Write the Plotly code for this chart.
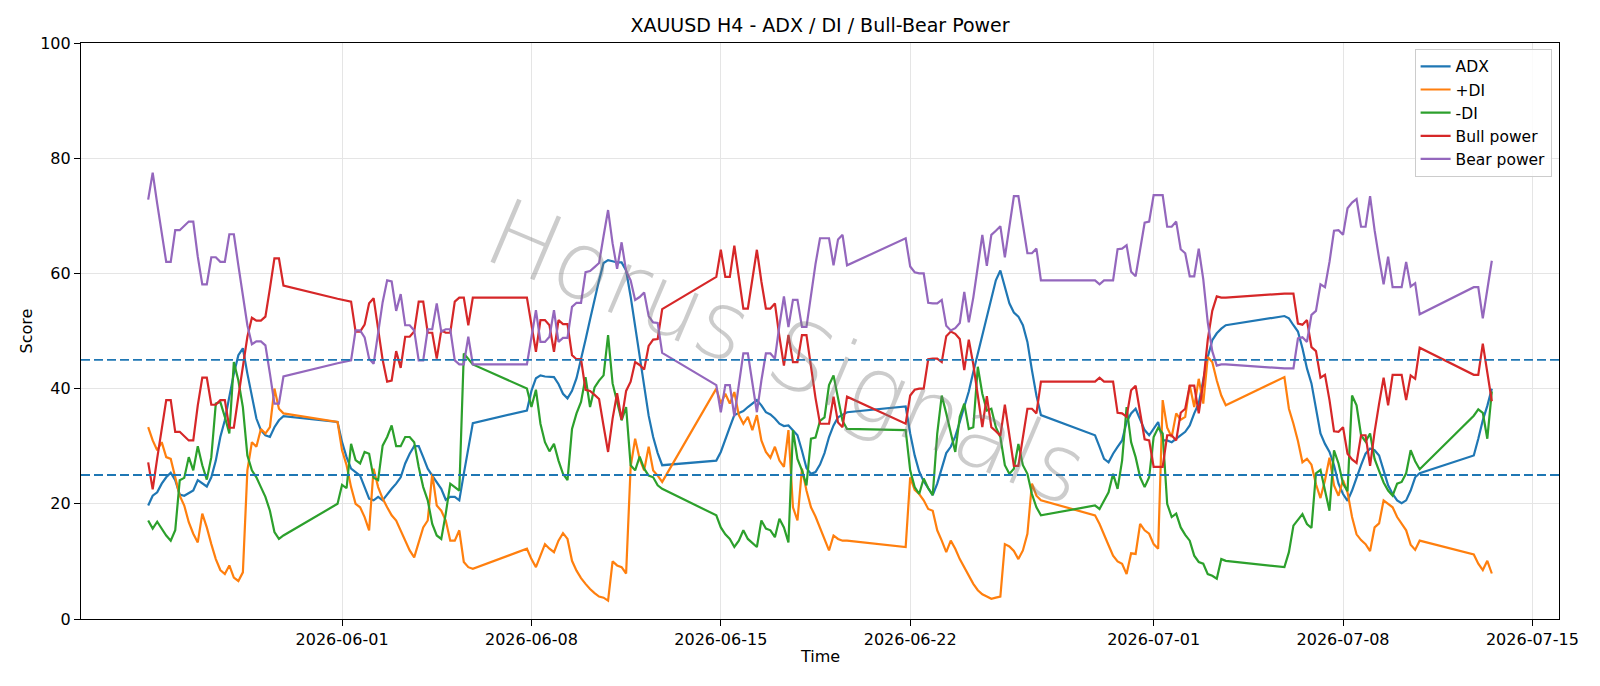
import pandas as pd
import plotly.graph_objects as go

# H4 trading sessions: (first bar, number of 4h bars)
sessions = [
    ("2026-05-24 20:00", 31), ("2026-05-31 20:00", 31), ("2026-06-07 20:00", 31),
    ("2026-06-14 20:00", 30), ("2026-06-21 20:00", 31), ("2026-06-28 20:00", 30),
    ("2026-07-05 20:00", 31), ("2026-07-12 20:00", 5),
]

adx = [
    19.7, 21.4, 22.0, 23.5, 24.6, 25.4, 24.1, 21.6, 21.4, 21.9, 22.3, 24.1, 23.5, 23.0, 24.6, 27.5, 31.6, 34.5, 38.6, 42.6, 45.8, 47.0, 42.6, 38.6, 34.8, 32.8, 31.9, 31.6, 33.3, 34.5, 35.2,
    34.2, 30.7, 28.1, 26.1, 25.5, 24.9, 22.9, 20.9, 20.6, 21.2, 20.6, 21.7, 22.6, 23.5, 24.6, 27.0, 28.7, 30.0, 30.0, 28.1, 26.1, 24.9, 23.8, 22.6, 20.7, 21.2, 21.2, 20.6, 25.2, 29.9, 34.0,
    36.2, 39.6, 41.8, 42.3, 42.1, 42.1, 42.0, 40.8, 39.1, 38.3, 39.6, 41.8, 45.0, 48.5, 52.0, 55.5, 58.8, 61.8, 62.3, 62.1, 61.9, 61.9, 60.5, 56.0, 50.8, 45.2, 39.8, 35.3, 31.6, 28.8, 26.7,
    27.5, 29.0, 31.0, 33.3, 35.4, 35.7, 36.1, 36.8, 37.4, 38.0, 37.1, 35.9, 35.5, 34.8, 33.9, 33.5, 33.6, 32.8, 31.9, 29.2, 26.2, 25.2, 25.5, 26.8, 28.8, 31.6, 33.6, 35.0, 35.5, 35.9,
    36.9, 32.2, 28.4, 25.6, 23.9, 22.6, 21.5, 23.5, 26.2, 28.8, 29.9, 31.7, 34.2, 36.8, 39.5, 42.9, 46.1, 49.3, 52.5, 55.7, 58.8, 60.5, 57.7, 54.8, 53.2, 52.5, 51.0, 48.1, 43.2, 38.8, 35.4,
    31.9, 29.9, 27.8, 27.2, 28.7, 29.9, 31.0, 34.2, 35.7, 36.5, 34.5, 32.8, 31.9, 33.0, 34.2, 31.0, 31.0, 30.7, 31.3, 31.9, 32.5, 33.6, 35.7, 37.4, 41.4, 45.5, 48.4, 49.6, 50.4, 51.0,
    52.6, 52.2, 51.0, 49.9, 47.0, 43.5, 40.9, 36.2, 32.2, 30.4, 29.0, 26.7, 23.5, 21.7, 20.5, 22.3, 24.6, 26.7, 28.7, 29.6, 29.3, 28.4, 25.8, 23.2, 21.7, 20.6, 20.1, 20.6, 22.3, 24.6, 25.3,
    28.4, 31.3, 34.5, 37.0, 40.0,
]

plus_di = [
    33.3, 31.0, 29.3, 30.7, 28.1, 27.8, 24.6, 21.4, 19.7, 16.8, 14.8, 13.3, 18.3, 15.9, 13.0, 10.4, 8.5, 7.8, 9.3, 7.2, 6.6, 8.1, 25.8, 30.7, 29.9, 33.0, 32.2, 33.3, 40.0, 36.5, 35.7,
    34.2, 29.3, 26.7, 22.9, 20.0, 19.4, 17.7, 15.4, 26.1, 22.9, 20.9, 19.4, 18.0, 17.1, 15.4, 13.6, 11.9, 10.7, 13.3, 15.9, 17.1, 25.2, 19.7, 18.8, 17.1, 13.6, 13.6, 15.4, 9.9, 9.0, 8.7,
    12.2, 10.4, 9.0, 11.0, 13.0, 12.2, 11.6, 13.6, 14.9, 13.9, 10.1, 8.4, 7.1, 6.1, 5.2, 4.5, 3.9, 3.7, 3.2, 10.0, 9.3, 9.0, 7.9, 26.4, 31.3, 27.8, 25.8, 29.9, 25.8, 24.9, 23.8,
    40.0, 37.4, 39.1, 37.4, 39.4, 35.4, 33.9, 35.1, 32.8, 35.4, 31.0, 29.0, 28.0, 29.9, 27.5, 26.4, 32.8, 19.4, 17.1, 26.1, 22.3, 19.4, 17.8, 15.9, 13.9, 11.9, 14.5, 13.9, 13.6, 13.6,
    12.5, 24.6, 22.4, 21.7, 20.6, 19.1, 18.8, 15.4, 13.6, 11.6, 13.6, 12.2, 10.4, 9.0, 7.5, 6.1, 5.0, 4.3, 3.9, 3.5, 3.7, 3.9, 13.0, 12.6, 11.8, 10.4, 11.9, 14.8, 23.5, 21.4, 20.6,
    18.0, 16.5, 14.5, 12.8, 11.0, 10.0, 9.6, 7.8, 11.4, 11.3, 16.5, 15.4, 14.8, 13.0, 12.2, 38.0, 33.2, 31.6, 35.7, 34.6, 35.1, 40.6, 36.8, 41.7, 37.4, 45.5, 44.6, 41.4, 38.8, 37.1,
    42.0, 36.5, 33.9, 30.9, 27.2, 27.8, 26.8, 23.4, 21.0, 24.1, 28.0, 23.2, 21.4, 24.1, 22.0, 17.7, 14.7, 13.7, 13.0, 11.8, 15.9, 16.6, 20.6, 20.0, 19.4, 17.7, 16.5, 15.4, 12.9, 12.0, 13.6,
    11.2, 9.6, 8.5, 10.1, 7.9,
]

minus_di = [
    17.1, 15.7, 16.9, 15.7, 14.5, 13.6, 15.4, 24.1, 24.5, 28.1, 25.8, 30.0, 26.7, 24.2, 28.1, 37.4, 37.7, 35.1, 32.2, 44.6, 41.4, 36.8, 28.4, 25.8, 24.6, 22.9, 21.2, 18.8, 15.1, 13.9, 14.5,
    20.0, 23.3, 22.7, 30.4, 27.6, 27.0, 29.0, 28.7, 24.5, 24.1, 30.1, 31.6, 33.6, 30.0, 30.0, 31.6, 31.6, 30.7, 26.4, 22.9, 20.6, 16.5, 14.5, 13.9, 18.3, 23.5, 22.9, 22.3, 46.1, 45.2, 44.2,
    40.0, 36.8, 39.8, 33.9, 30.7, 29.1, 30.4, 27.5, 25.2, 24.1, 33.0, 35.7, 37.7, 42.0, 36.8, 40.2, 41.4, 42.3, 49.3, 40.9, 37.7, 34.5, 36.8, 26.7, 25.8, 28.2, 26.1, 24.9, 24.6, 23.2, 22.6,
    18.0, 15.9, 14.7, 13.9, 12.5, 13.6, 15.4, 13.9, 13.2, 12.5, 17.1, 15.7, 15.4, 14.2, 17.4, 15.9, 13.3, 32.8, 27.8, 25.8, 23.2, 31.3, 31.5, 34.4, 35.0, 40.6, 42.3, 38.3, 34.4, 33.0,
    32.8, 25.8, 22.9, 21.7, 24.4, 22.7, 21.5, 32.2, 38.8, 35.7, 32.2, 29.0, 35.1, 37.4, 33.0, 33.3, 43.8, 39.1, 36.2, 36.5, 33.3, 31.6, 26.7, 25.2, 26.1, 30.4, 26.7, 25.2, 21.7, 19.4, 18.0,
    19.7, 19.1, 20.6, 22.0, 25.2, 22.6, 27.5, 36.8, 30.7, 28.1, 24.6, 22.9, 24.6, 31.6, 33.2, 32.2, 20.0, 17.7, 18.3, 15.9, 14.6, 13.6, 11.0, 9.9, 9.6, 7.8, 7.5, 7.0, 10.4, 10.1,
    9.0, 11.6, 16.2, 17.2, 18.2, 16.5, 15.8, 25.3, 25.9, 22.3, 18.8, 29.3, 27.0, 23.5, 22.2, 38.8, 37.1, 31.9, 30.8, 32.2, 27.8, 25.7, 23.7, 22.3, 21.4, 23.5, 23.8, 25.3, 29.3, 27.4, 26.0,
    35.3, 36.4, 35.8, 31.3, 39.5,
]

bull_power = [
    27.2, 22.5, 27.9, 33.0, 38.0, 38.0, 32.5, 32.5, 31.8, 31.0, 31.0, 37.1, 41.9, 41.9, 37.2, 37.2, 38.0, 38.0, 33.2, 33.2, 38.6, 43.6, 49.0, 52.3, 51.8, 51.8, 52.5, 57.4, 62.6, 62.6, 57.9,
    55.6, 55.4, 55.2, 55.1, 49.9, 49.9, 51.1, 54.8, 55.7, 50.5, 45.0, 41.2, 41.4, 46.5, 43.6, 49.0, 49.0, 49.9, 55.1, 55.1, 49.7, 49.7, 45.2, 50.1, 49.7, 49.7, 55.1, 55.8, 55.8, 51.0, 55.8,
    55.8, 51.0, 46.4, 51.9, 51.9, 51.0, 46.4, 51.9, 51.2, 51.2, 45.8, 45.1, 45.1, 39.8, 39.6, 38.9, 38.2, 33.5, 29.0, 34.8, 39.2, 34.6, 39.6, 41.2, 44.6, 44.1, 43.3, 47.4, 48.5, 48.6, 53.8,
    59.4, 64.1, 59.4, 59.4, 64.8, 59.7, 53.9, 53.9, 58.8, 64.1, 58.6, 53.9, 53.9, 54.8, 49.0, 44.0, 49.3, 44.6, 44.6, 49.3, 49.3, 43.5, 38.4, 33.9, 33.9, 33.9, 38.6, 34.1, 33.3, 38.6,
    33.9, 38.8, 39.8, 40.0, 40.0, 45.1, 45.2, 45.2, 44.6, 49.1, 49.9, 49.5, 48.6, 43.2, 48.5, 44.2, 38.8, 33.3, 38.7, 33.3, 32.6, 31.8, 37.2, 32.2, 26.6, 26.6, 31.3, 36.5, 36.5, 35.7, 41.2,
    41.2, 41.9, 41.2, 41.2, 41.2, 35.8, 35.7, 35.1, 39.7, 40.5, 35.9, 31.2, 31.0, 26.4, 26.4, 26.4, 31.9, 31.9, 31.0, 35.8, 36.5, 40.5, 40.5, 35.7, 41.0, 48.5, 53.5, 56.0, 55.8, 55.8,
    56.5, 56.5, 56.5, 51.3, 51.1, 51.9, 47.2, 46.5, 41.9, 42.4, 38.0, 32.6, 32.5, 33.3, 28.7, 27.7, 27.1, 31.9, 31.9, 26.6, 32.5, 37.4, 41.9, 37.1, 42.4, 42.4, 42.4, 38.0, 42.3, 41.7, 47.1,
    42.4, 42.4, 47.8, 42.9, 37.8,
]

bear_power = [
    72.8, 77.5, 72.1, 67.0, 62.0, 62.0, 67.5, 67.5, 68.2, 69.0, 69.0, 62.9, 58.1, 58.1, 62.8, 62.8, 62.0, 62.0, 66.8, 66.8, 61.4, 56.4, 51.0, 47.7, 48.2, 48.2, 47.5, 42.6, 37.4, 37.4, 42.1,
    44.4, 44.6, 44.8, 44.9, 50.1, 50.1, 48.9, 45.2, 44.3, 49.5, 55.0, 58.8, 58.6, 53.5, 56.4, 51.0, 51.0, 50.1, 44.9, 44.9, 50.3, 50.3, 54.8, 49.9, 50.3, 50.3, 44.9, 44.2, 44.2, 49.0, 44.2,
    44.2, 49.0, 53.6, 48.1, 48.1, 49.0, 53.6, 48.1, 48.8, 48.8, 54.2, 54.9, 54.9, 60.2, 60.4, 61.1, 61.8, 66.5, 71.0, 65.2, 60.8, 65.4, 60.4, 58.8, 55.4, 55.9, 56.7, 52.6, 51.5, 51.4, 46.2,
    40.6, 35.9, 40.6, 40.6, 35.2, 40.3, 46.1, 46.1, 41.2, 35.9, 41.4, 46.1, 46.1, 45.2, 51.0, 56.0, 50.7, 55.4, 55.4, 50.7, 50.7, 56.5, 61.6, 66.1, 66.1, 66.1, 61.4, 65.9, 66.7, 61.4,
    66.1, 61.2, 60.2, 60.0, 60.0, 54.9, 54.8, 54.8, 55.4, 50.9, 50.1, 50.5, 51.4, 56.8, 51.5, 55.8, 61.2, 66.7, 61.3, 66.7, 67.4, 68.2, 62.8, 67.8, 73.4, 73.4, 68.7, 63.5, 63.5, 64.3, 58.8,
    58.8, 58.1, 58.8, 58.8, 58.8, 64.2, 64.3, 64.9, 60.3, 59.5, 64.1, 68.8, 69.0, 73.6, 73.6, 73.6, 68.1, 68.1, 69.0, 64.2, 63.5, 59.5, 59.5, 64.3, 59.0, 51.5, 46.5, 44.0, 44.2, 44.2,
    43.5, 43.5, 43.5, 48.7, 48.9, 48.1, 52.8, 53.5, 58.1, 57.6, 62.0, 67.4, 67.5, 66.7, 71.3, 72.3, 72.9, 68.1, 68.1, 73.4, 67.5, 62.6, 58.1, 62.9, 57.6, 57.6, 57.6, 62.0, 57.7, 58.3, 52.9,
    57.6, 57.6, 52.2, 57.1, 62.2,
]

x_tick_dates = ["2026-06-01", "2026-06-08", "2026-06-15", "2026-06-22", "2026-07-01", "2026-07-08", "2026-07-15"]
y_ticks = [0, 20, 40, 60, 80, 100]
thresholds = [45, 25]

series = [
    ("ADX", adx, "#1f77b4"),
    ("+DI", plus_di, "#ff7f0e"),
    ("-DI", minus_di, "#2ca02c"),
    ("Bull power", bull_power, "#d62728"),
    ("Bear power", bear_power, "#9467bd"),
]

times = []
for start, n in sessions:
    times += list(pd.date_range(start, periods=n, freq="4h"))
for name, vals, _ in series:
    assert len(vals) == len(times), (name, len(vals), len(times))

fig = go.Figure()
for name, vals, color in series:
    fig.add_trace(go.Scatter(x=times, y=vals, mode="lines", name=name,
                             line=dict(color=color, width=2.2)))

for yv in thresholds:
    fig.add_hline(y=yv, line=dict(color="#1f77b4", width=1.8, dash="9px,4px"), layer="above")

span = times[-1] - times[0]
x_range = [times[0] - 0.05 * span, times[-1] + 0.05 * span]

L, R, T, B = 81, 41, 43, 67
W, H = 1600, 686
pw, ph = W - L - R, H - T - B

fig.update_layout(
    width=W, height=H,
    margin=dict(l=L, r=R, t=T, b=B, pad=0),
    paper_bgcolor="white", plot_bgcolor="white",
    font=dict(family="DejaVu Sans", size=16, color="black"),
    title=dict(text="XAUUSD H4 - ADX / DI / Bull-Bear Power", x=0.5, xref="paper", xanchor="center",
               y=1 - 25.5 / H, yref="container", yanchor="middle", font=dict(size=19, color="black")),
    showlegend=True,
    legend=dict(x=0.995, y=0.99, xanchor="right", yanchor="top",
                bgcolor="rgba(255,255,255,0.85)", bordercolor="#cccccc", borderwidth=1,
                font=dict(size=15.5), tracegroupgap=0, itemwidth=30),
)

fig.update_xaxes(type="date", range=x_range, tickmode="array", tickvals=x_tick_dates, ticktext=x_tick_dates,
                 showgrid=True, gridcolor="#e5e5e5", gridwidth=1.2, zeroline=False,
                 showline=True, linecolor="black", linewidth=1.2, mirror=True,
                 ticks="outside", ticklen=6, tickwidth=1.2, tickcolor="black",
                 tickfont=dict(size=16, color="black"))
fig.update_yaxes(range=[0, 100], tickmode="array", tickvals=y_ticks, ticktext=[str(v) for v in y_ticks],
                 showgrid=True, gridcolor="#e5e5e5", gridwidth=1.2, zeroline=False,
                 showline=True, linecolor="black", linewidth=1.2, mirror=True,
                 ticks="outside", ticklen=6, tickwidth=1.2, tickcolor="black",
                 tickfont=dict(size=16, color="black"))

# axis titles
fig.add_annotation(text="Score", xref="paper", yref="paper", x=(25.5 - L) / pw, y=0.5,
                   textangle=-90, showarrow=False, xanchor="center", yanchor="middle",
                   font=dict(size=16, color="black"))
fig.add_annotation(text="Time", xref="paper", yref="paper", x=0.5, y=-(656 - (H - B)) / ph,
                   showarrow=False, xanchor="center", yanchor="middle", font=dict(size=16, color="black"))

# watermark
fig.add_annotation(text="Horus Signals", xref="paper", yref="paper", x=0.478, y=0.462,
                   textangle=23, showarrow=False, xanchor="center", yanchor="middle",
                   font=dict(family="DejaVu Sans", size=94, color="rgba(120,120,120,0.38)", weight=200))

fig.write_html("out.html")
